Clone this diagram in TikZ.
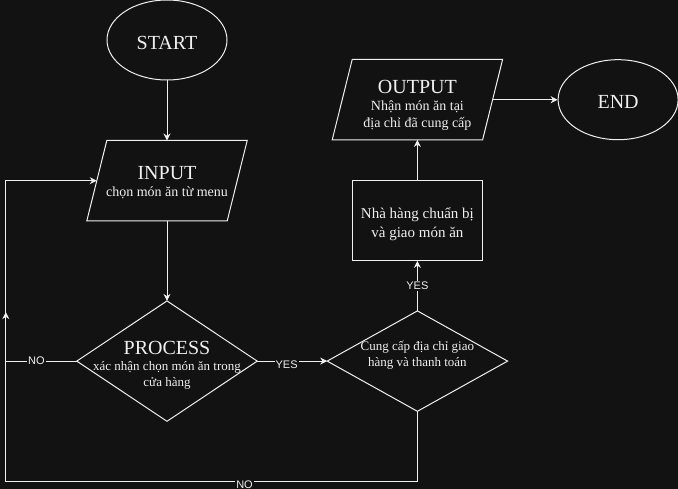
\documentclass[tikz,border=0pt]{standalone}
\usepackage{fontspec}
\setmainfont{Liberation Serif}
\setsansfont{Liberation Sans}
\usetikzlibrary{positioning,arrows.meta,shapes.geometric,calc}
\definecolor{canvas}{HTML}{121212}
\definecolor{ink}{HTML}{F0F0F0}
\newcommand{\boxtitle}[1]{{\fontsize{20}{23}\selectfont #1}}

\begin{document}
\begin{tikzpicture}[
    x=1pt, y=-1pt,
    every node/.append style={text=ink},
    term/.style={draw=ink, line width=1pt, ellipse, minimum width=120pt,
                 minimum height=80pt, inner sep=0pt, text height=18.6pt, text depth=0pt,
                 font=\fontsize{20}{23}\selectfont},
    io/.style={minimum width=140pt, minimum height=80pt, inner sep=0pt,
               align=center, font=\fontsize{14}{17}\selectfont,
               append after command={\pgfextra{\draw[ink, line width=1pt]
                 ([xshift=10pt]\tikzlastnode.north west) -- ([xshift=10pt]\tikzlastnode.north east)
                 -- ([xshift=-10pt]\tikzlastnode.south east) -- ([xshift=-10pt]\tikzlastnode.south west)
                 -- cycle;}}},
    choice/.style={minimum width=180pt, minimum height=120pt, inner sep=0pt,
                   align=center, font=\fontsize{13}{16}\selectfont,
                   append after command={\pgfextra{\draw[ink, line width=1pt]
                     (\tikzlastnode.north) -- (\tikzlastnode.east) -- (\tikzlastnode.south)
                     -- (\tikzlastnode.west) -- cycle;}}},
    stepbox/.style={draw=ink, line width=1pt, minimum width=130pt,
                    minimum height=80pt, inner sep=0pt, align=center,
                    font=\fontsize{15}{19}\selectfont},
    arr/.style={ink, line width=1pt, -{Stealth[length=7pt, width=7pt]}},
    lbl/.style={fill=canvas, inner sep=1pt, font=\sffamily\fontsize{11}{13}\selectfont},
]
\fill[canvas] (0,0) rectangle (678,489);
\useasboundingbox (0,0) rectangle (678,489);

% ---- order path ----
\node[term]                          (start) at (167,40) {START};
\node[io, text height=32pt, text depth=0pt,
      below=60pt of start]           (in)    {\boxtitle{INPUT}\\chọn món ăn từ menu};
\node[choice, text height=50pt, text depth=0pt,
      below=80pt of in]              (proc)  {\boxtitle{PROCESS}\\xác nhận chọn món ăn trong\\cửa hàng};
\node[choice, minimum height=100pt, text height=10pt, text depth=0pt,
      right=70pt of proc]            (pay)   {Cung cấp địa chỉ giao\\hàng và thanh toán};
\node[stepbox, text height=34pt, text depth=0pt,
      above=50pt of pay]             (cook)  {Nhà hàng chuẩn bị\\và giao món ăn};
\node[io, minimum width=150pt, text height=56pt, text depth=0pt,
      above=40pt of cook]            (out)   {\boxtitle{OUTPUT}\\Nhận món ăn tại\\địa chỉ đã cung cấp};
\node[term,   right=65pt of out]     (end)   {END};

\draw[arr] (start) -- (in);
\draw[arr] (in) -- (proc);
\draw[arr] (proc) -- node[lbl, pos=0.42, yshift=-4pt]{YES} (pay);
\draw[arr] (pay) -- node[lbl]{YES} (cook);
\draw[arr] (cook) -- (out);
\draw[arr] (out) -- (end);

% ---- loops back ----
\coordinate (lft)  at ($(proc.west)+(-71,0)$);
\coordinate (bot)  at ($(pay.south)+(0,70)$);
\coordinate (rise) at ($(lft)+(0,-49)$);
\draw[arr] (proc.west) -- node[lbl, pos=0.57]{NO} (lft) |- (in.west);
\draw[arr] (pay.south) |- node[lbl, pos=0.71, yshift=-3pt]{NO} (lft |- bot) -- (rise);
\end{tikzpicture}
\end{document}
